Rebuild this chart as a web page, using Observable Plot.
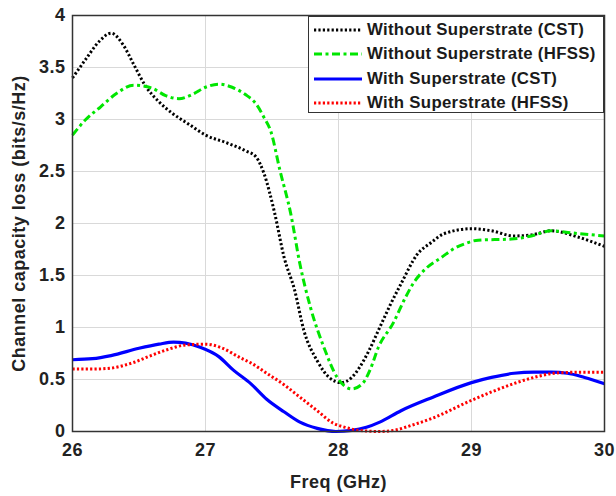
<!DOCTYPE html>
<html>
<head>
<meta charset="utf-8">
<script src="https://cdn.jsdelivr.net/npm/d3@7"></script>
<script src="https://cdn.jsdelivr.net/npm/@observablehq/plot@0.6"></script>
<style>
  html, body { margin: 0; padding: 0; background: #fff; }
  #wrap { position: relative; width: 616px; height: 496px; font-family: "Liberation Sans", Arial, sans-serif; }
  #legend { position: absolute; left: 308px; top: 16px; width: 296px; height: 97px; border: 1.5px solid #333; background: #fff; box-sizing: border-box; }
  .row { position: absolute; left: 0; height: 24px; display: flex; align-items: center; }
  .row svg { margin-left: 5px; margin-right: 5px; }
  .row span { font-weight: bold; font-size: 16.8px; letter-spacing: 0.3px; color: #1a1a1a; white-space: nowrap; }
  svg text { letter-spacing: 0.5px; }
</style>
</head>
<body>
<div id="wrap"><div id="legend"></div></div>
<script>
const seriesNames = [
  "Without Superstrate (CST)",
  "Without Superstrate (HFSS)",
  "With Superstrate (CST)",
  "With Superstrate (HFSS)"
];

const freqWoCST = [26.0, 26.1, 26.2, 26.29, 26.38, 26.46, 26.55, 26.65, 26.75, 26.88, 27.0, 27.15, 27.3, 27.38, 27.44, 27.52, 27.59, 27.67, 27.74, 27.84, 27.93, 28.02, 28.1, 28.16, 28.23, 28.31, 28.39, 28.47, 28.59, 28.7, 28.79, 29.0, 29.15, 29.32, 29.45, 29.6, 29.8, 30.0];
const lossWoCST = [3.40, 3.58, 3.75, 3.83, 3.72, 3.53, 3.32, 3.17, 3.06, 2.95, 2.85, 2.78, 2.70, 2.64, 2.48, 2.10, 1.68, 1.36, 0.97, 0.68, 0.52, 0.47, 0.52, 0.62, 0.78, 1.00, 1.22, 1.42, 1.70, 1.82, 1.90, 1.95, 1.93, 1.88, 1.89, 1.93, 1.87, 1.78];

const freqWoHFSS = [26.0, 26.1, 26.21, 26.33, 26.46, 26.6, 26.7, 26.8, 26.9, 27.0, 27.1, 27.2, 27.3, 27.38, 27.44, 27.49, 27.56, 27.64, 27.71, 27.79, 27.89, 27.99, 28.1, 28.18, 28.24, 28.3, 28.41, 28.5, 28.56, 28.66, 28.77, 28.87, 28.96, 29.05, 29.3, 29.45, 29.6, 29.75, 30.0];
const lossWoHFSS = [2.85, 3.00, 3.12, 3.25, 3.33, 3.30, 3.23, 3.20, 3.24, 3.31, 3.34, 3.31, 3.24, 3.15, 3.02, 2.89, 2.51, 2.10, 1.61, 1.19, 0.81, 0.52, 0.41, 0.46, 0.60, 0.81, 1.04, 1.28, 1.42, 1.57, 1.67, 1.76, 1.81, 1.84, 1.85, 1.88, 1.93, 1.91, 1.88];

const freqWCST = [26.0, 26.15, 26.29, 26.5, 26.65, 26.76, 26.85, 26.96, 27.1, 27.21, 27.34, 27.46, 27.59, 27.71, 27.84, 27.98, 28.1, 28.21, 28.31, 28.47, 28.71, 29.0, 29.15, 29.32, 29.47, 29.6, 29.72, 29.85, 30.0];
const lossWCST = [0.69, 0.70, 0.73, 0.80, 0.84, 0.86, 0.85, 0.81, 0.72, 0.59, 0.46, 0.31, 0.19, 0.09, 0.03, 0.00, 0.01, 0.04, 0.09, 0.20, 0.33, 0.47, 0.52, 0.56, 0.57, 0.57, 0.56, 0.52, 0.46];

const freqWHFSS = [26.0, 26.15, 26.29, 26.45, 26.59, 26.72, 26.84, 27.0, 27.13, 27.26, 27.34, 27.46, 27.59, 27.71, 27.84, 27.96, 28.05, 28.16, 28.3, 28.41, 28.55, 28.71, 29.0, 29.15, 29.34, 29.5, 29.62, 29.8, 30.0];
const lossWHFSS = [0.60, 0.60, 0.61, 0.66, 0.73, 0.79, 0.83, 0.84, 0.80, 0.71, 0.66, 0.56, 0.45, 0.33, 0.20, 0.08, 0.04, 0.01, 0.00, 0.01, 0.06, 0.13, 0.30, 0.38, 0.47, 0.53, 0.56, 0.57, 0.57];

const xTicks = [26, 27, 28, 29, 30];
const yTicks = [0, 0.5, 1, 1.5, 2, 2.5, 3, 3.5, 4];

const colors = ["#000000", "#00e600", "#0000ff", "#ff0000"];
const dashes = ["2.2,2.2", "8,3.5,3,3.5", null, "2.2,2.2"];
const widths = [3, 3, 3.2, 3];

const freqs = [freqWoCST, freqWoHFSS, freqWCST, freqWHFSS];
const losses = [lossWoCST, lossWoHFSS, lossWCST, lossWHFSS];
const tables = freqs.map((fs, i) => fs.map((f, j) => ({freq: f, loss: losses[i][j], series: seriesNames[i]})));

const lineMarks = tables.map((t, i) => Plot.line(t, {
  x: "freq", y: "loss", stroke: colors[i], strokeWidth: widths[i],
  strokeDasharray: dashes[i] || undefined, strokeLinecap: "butt", strokeLinejoin: "round",
  curve: "monotone-x"
}));

const chart = Plot.plot({
  width: 616, height: 496,
  marginTop: 15, marginRight: 12, marginBottom: 65, marginLeft: 72,
  style: {fontFamily: "Liberation Sans, Arial, sans-serif", fontSize: "18px", fontWeight: "bold", color: "#222", background: "#fff"},
  x: {domain: [26, 30], ticks: xTicks},
  y: {domain: [0, 4], ticks: yTicks},
  marks: [
    Plot.gridX(xTicks, {stroke: "#d9d9d9", strokeOpacity: 1}),
    Plot.gridY(yTicks, {stroke: "#d9d9d9", strokeOpacity: 1}),
    Plot.axisX(xTicks, {tickSize: 0, tickPadding: 12, label: "Freq (GHz)", labelAnchor: "center", labelArrow: "none", labelOffset: 56, tickFormat: d => String(d)}),
    Plot.axisY(yTicks, {tickSize: 0, tickPadding: 7, label: "Channel capacity loss (bits/s/Hz)", labelAnchor: "center", labelArrow: "none", labelOffset: 60, tickFormat: d => String(d)}),
    ...lineMarks,
    Plot.frame({stroke: "#333", strokeWidth: 1.5})
  ]
});

const wrap = document.getElementById("wrap");
wrap.insertBefore(chart, wrap.firstChild);

const legend = document.getElementById("legend");
seriesNames.forEach((name, i) => {
  const row = document.createElement("div");
  row.className = "row";
  row.style.top = (1 + i * 24.3) + "px";
  const ns = "http://www.w3.org/2000/svg";
  const s = document.createElementNS(ns, "svg");
  s.setAttribute("width", 48); s.setAttribute("height", 10);
  const l = document.createElementNS(ns, "line");
  l.setAttribute("x1", 0); l.setAttribute("x2", 48); l.setAttribute("y1", 5); l.setAttribute("y2", 5);
  l.setAttribute("stroke", colors[i]); l.setAttribute("stroke-width", widths[i]);
  if (dashes[i]) l.setAttribute("stroke-dasharray", dashes[i]);
  s.appendChild(l);
  const t = document.createElement("span");
  t.textContent = name;
  row.appendChild(s); row.appendChild(t);
  legend.appendChild(row);
});
</script>
</body>
</html>
